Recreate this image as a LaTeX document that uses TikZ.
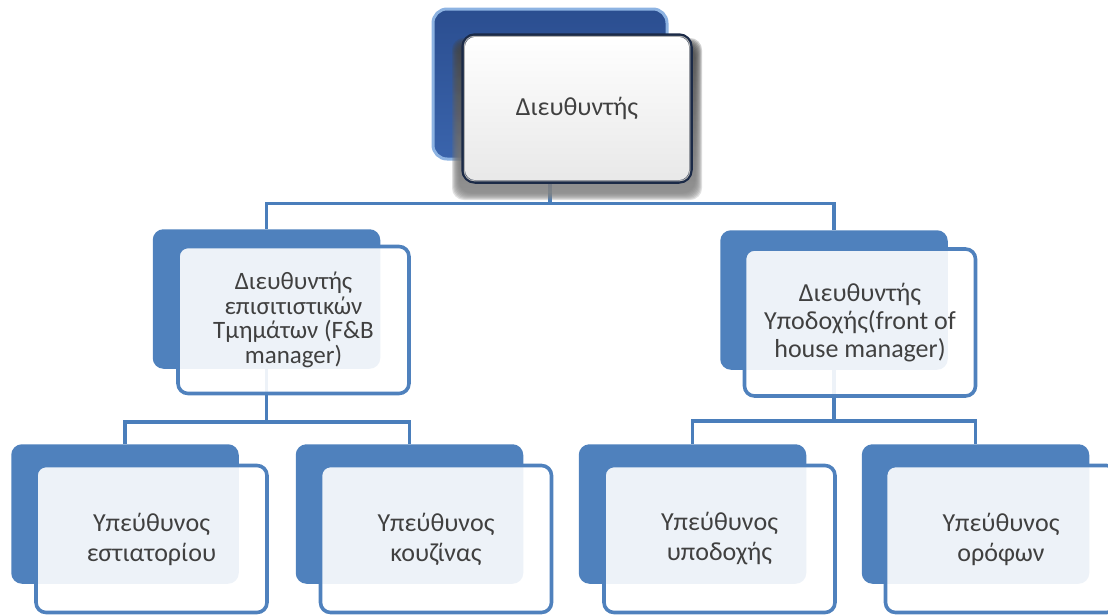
\documentclass[tikz,border=0pt]{standalone}
\usepackage{fontspec}
\setmainfont{Carlito}
\usetikzlibrary{calc}
\definecolor{linkblue}{HTML}{4A7EBB}
\definecolor{boxblue}{HTML}{4F81BD}
\definecolor{deeptop}{HTML}{2B4E90}
\definecolor{deepbot}{HTML}{3A64AC}
\definecolor{rimblue}{HTML}{8DB3E2}
\definecolor{ink}{HTML}{404040}
\definecolor{navy}{HTML}{1B2A47}
\definecolor{shade}{HTML}{1F3A6E}

\begin{document}
\begin{tikzpicture}[x=1pt,y=-1pt,
  backbox/.style={rectangle, rounded corners=10pt, fill=boxblue, draw=boxblue,
    line width=1.5pt, minimum width=226pt, minimum height=138pt, inner sep=0pt},
  frontbox/.style={rectangle, rounded corners=10pt, draw=boxblue, line width=3.6pt,
    fill=white, fill opacity=0.9, text opacity=1, text=ink, align=center,
    minimum width=231pt, minimum height=147pt, inner sep=0pt,
    font=\fontsize{26}{30}\selectfont},
  topback/.style={rectangle, rounded corners=14pt, top color=deeptop, bottom color=deepbot,
    draw=rimblue, line width=3pt, minimum width=234pt, minimum height=150pt, inner sep=0pt},
  topfront/.style={rectangle, rounded corners=12pt, top color=white, bottom color=black!9,
    draw=navy, line width=3.5pt, minimum width=228pt, minimum height=147pt, inner sep=0pt,
    text=ink, font=\fontsize{26}{30}\selectfont},
  link/.style={draw=linkblue, line width=3.6pt}]

\useasboundingbox (0,0) rectangle (1108,614);
\clip (0,0) rectangle (1108,614);

% rear plates
\node[topback]  (ceo) at (550,84) {};
\node[backbox]  (fb)  at (266.5,299) {};
\node[backbox]  (fo)  at (834,300) {};
\node[backbox]  (rest) at (125,514) {};
\node[backbox]  (kit)  at (409.5,514) {};
\node[backbox]  (rec)  at (692.5,514) {};
\node[backbox]  (hk)   at (975.5,514) {};

% reporting lines
\draw[link] (ceo.south) -- ++(0,43) -| (fb.north);
\draw[link] (ceo.south) -- ++(0,43) -| (fo.north);
\draw[link] (fb.south) -- ++(0,53) -| (rest.north);
\draw[link] (fb.south) -- ++(0,53) -| (kit.north);
\draw[link] (fo.south) -- ++(0,51) -| (rec.north);
\draw[link] (fo.south) -- ++(0,51) -| (hk.north);

% soft shadow under the director's card
\foreach \s in {0,...,7}
  \fill[shade, opacity=0.13, rounded corners=12pt]
    (452+\s,38+\s) rectangle (702-\s,200-\s);

% front cards with titles
\node[topfront] (ceoT) at (577,108.5) {Διευθυντής};
\draw[white!70!black, line width=1pt, rounded corners=10pt]
  ($(ceoT.north west)+(3,3)$) rectangle ($(ceoT.south east)+(-3,-3)$);

\node[frontbox, font=\fontsize{25}{24.5}\selectfont] (fbT) at (293.5,320)
  {Διευθυντής\\επισιτιστικών\\Τμημάτων (F\&B\\manager)};
\node[frontbox, font=\fontsize{26}{28}\selectfont] (foT) at (860,322.5)
  {Διευθυντής\\Υποδοχής(front of\\house manager)};
\node[frontbox] (restT) at (151.5,539) {Υπεύθυνος\\εστιατορίου};
\node[frontbox] (kitT)  at (436,539)   {Υπεύθυνος\\κουζίνας};
\node[frontbox] (recT)  at (719.5,539) {Υπεύθυνος\\υποδοχής};
\node[frontbox] (hkT)   at (1001,539)  {Υπεύθυνος\\ορόφων};
\end{tikzpicture}
\end{document}
